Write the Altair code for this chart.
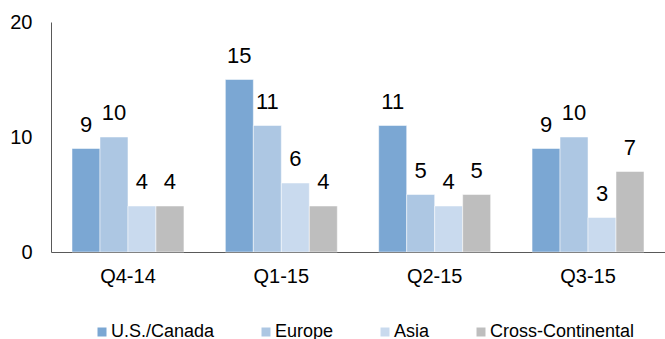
import altair as alt
import pandas as pd

quarters = ["Q4-14", "Q1-15", "Q2-15", "Q3-15"]
regions = ["U.S./Canada", "Europe", "Asia", "Cross-Continental"]
us_canada = [9, 15, 11, 9]
europe = [10, 11, 5, 10]
asia = [4, 6, 4, 3]
cross = [4, 4, 5, 7]
colors = ["#7BA7D3", "#ADC7E3", "#C9DAEE", "#BEBEBE"]

rows = []
for series_name, vals in zip(regions, [us_canada, europe, asia, cross]):
    for q, v in zip(quarters, vals):
        rows.append({"quarter": q, "region": series_name, "value": v})
df = pd.DataFrame(rows)

FONT = "Liberation Sans"

x = alt.X("quarter:N", sort=quarters, title=None,
          scale=alt.Scale(paddingInner=0.27, paddingOuter=0.137),
          axis=alt.Axis(labelAngle=0, ticks=False, labelFontSize=20, labelPadding=14,
                        labelColor="#000000", domainColor="#595959", labelFont=FONT))
xoff = alt.XOffset("region:N", sort=regions,
                   scale=alt.Scale(paddingInner=0, paddingOuter=0))
y = alt.Y("value:Q", title=None,
          scale=alt.Scale(domain=[0, 20], nice=False),
          axis=alt.Axis(values=[0, 10, 20], grid=False, ticks=False, labelFontSize=20,
                        labelPadding=19, labelColor="#000000", domainColor="#595959",
                        labelFont=FONT))

base = alt.Chart(df)

bars = base.mark_bar(stroke="#FFFFFF", strokeWidth=0.5).encode(
    x=x, xOffset=xoff, y=y,
    color=alt.Color("region:N", sort=regions,
                    scale=alt.Scale(domain=regions, range=colors),
                    legend=alt.Legend(title=None, orient="none", direction="horizontal",
                                      legendX=42, legendY=301,
                                      symbolType="square", symbolSize=81,
                                      symbolStrokeWidth=0, labelFontSize=18,
                                      labelFont=FONT, labelColor="#000000",
                                      columnPadding=42, labelOffset=0,
                                      labelLimit=300)),
)

labels = base.mark_text(baseline="alphabetic", dy=-17, fontSize=22, font=FONT,
                        color="#000000").encode(
    x=x, xOffset=xoff, y=y, text=alt.Text("value:Q"),
)

chart = alt.layer(bars, labels).properties(
    width=614, height=230,
    padding={"left": 51, "top": 22, "right": 0, "bottom": 87},
    autosize=alt.AutoSizeParams(type="none"),
    background="#FFFFFF",
).configure_view(stroke=None)

chart.save("out.html", embed_options={"renderer": "svg", "actions": False})
